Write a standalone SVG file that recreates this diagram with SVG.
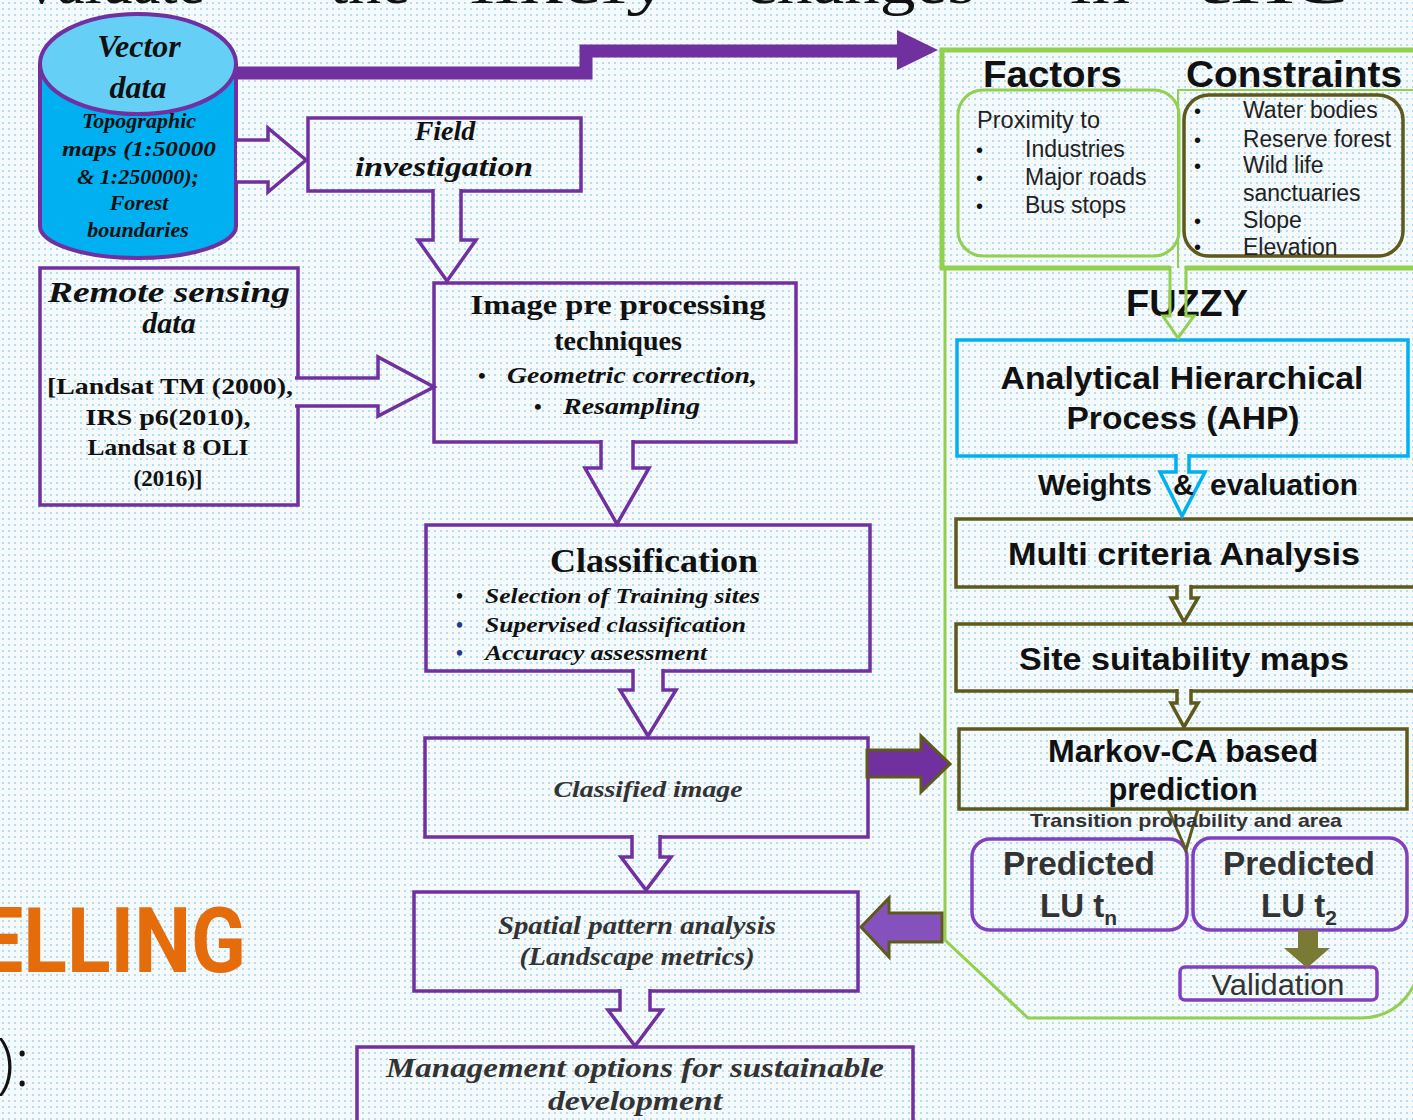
<svg xmlns="http://www.w3.org/2000/svg" width="1413" height="1120" viewBox="0 0 1413 1120">
<defs>
<pattern id="dots" width="6" height="6" patternUnits="userSpaceOnUse">
<rect width="6" height="6" fill="#f4f9fb"/>
<circle cx="3" cy="3" r="0.95" fill="#9fd1e4"/>
</pattern>
<style>
.pbox{fill:none;stroke:#7030a0;stroke-width:3.5}
.ser{font-family:"Liberation Serif",serif;font-weight:bold;fill:#111}
.seri{font-family:"Liberation Serif",serif;font-weight:bold;font-style:italic;fill:#111}
.sans{font-family:"Liberation Sans",Arial,sans-serif;fill:#111}
.b{font-weight:bold}
.hol{fill:url(#dots);stroke:#7030a0;stroke-width:3.5;stroke-linejoin:miter}
.olv{fill:none;stroke:#5e5a1c;stroke-width:3.5}
.grn{fill:none;stroke:#92d050}
.ppl{fill:none;stroke:#8041c0;stroke-width:3.5}
.mid{text-anchor:middle}
</style>
</defs>
<rect width="1413" height="1120" fill="url(#dots)"/>

<g id="title-fragments" font-family="Liberation Serif,serif" font-size="62" fill="#111">
<text x="205" y="3" text-anchor="end">valuate</text>
<text x="330" y="3" textLength="80" lengthAdjust="spacingAndGlyphs">the</text>
<text x="470" y="3" textLength="200" lengthAdjust="spacingAndGlyphs">likely</text>
<text x="745" y="3" textLength="230" lengthAdjust="spacingAndGlyphs">changes</text>
<text x="1070" y="3" textLength="60" lengthAdjust="spacingAndGlyphs">in</text>
<text x="1195" y="3" textLength="155" lengthAdjust="spacingAndGlyphs">the</text>
</g>
<g id="side-text">
<text x="-22" y="972" font-family="Roboto,'Liberation Sans',sans-serif" font-weight="bold" font-size="91" fill="#e46c0a" textLength="268" lengthAdjust="spacingAndGlyphs">ELLING</text>
<text x="30" y="1086" text-anchor="end" font-family="'Open Sans','Liberation Sans',sans-serif" font-weight="300" font-size="66" fill="#111">0):</text>
</g>

<!-- Left flow nodes -->
<g id="vector-data">
<path d="M40,64 L40,226 A98,32 0 0 0 236,226 L236,64" fill="#00b0f0" stroke="#7030a0" stroke-width="4"/>
<ellipse cx="138" cy="64" rx="98" ry="50" fill="#66cff5" stroke="#7030a0" stroke-width="4"/>
<text class="seri mid" x="139" y="57" font-size="32">Vector</text>
<text class="seri mid" x="138" y="98" font-size="32">data</text>
<text class="seri mid" x="139" y="128" font-size="22">Topographic</text>
<text class="seri mid" x="139" y="156" font-size="22" textLength="154" lengthAdjust="spacingAndGlyphs">maps (1:50000</text>
<text class="seri mid" x="138" y="184" font-size="22">&amp; 1:250000);</text>
<text class="seri mid" x="139" y="210" font-size="22">Forest</text>
<text class="seri mid" x="138" y="237" font-size="22">boundaries</text>
</g>

<g id="field-investigation">
<rect class="pbox" x="308" y="118" width="273" height="73" stroke-width="3"/>
<text class="seri mid" x="445" y="140" font-size="28">Field</text>
<text class="seri mid" x="444" y="176" font-size="28" textLength="178" lengthAdjust="spacingAndGlyphs">investigation</text>
</g>

<g id="remote-sensing">
<rect class="pbox" x="40" y="268" width="258" height="237"/>
<text class="seri mid" x="169" y="302" font-size="30" textLength="242" lengthAdjust="spacingAndGlyphs">Remote sensing</text>
<text class="seri mid" x="169" y="333" font-size="30">data</text>
<text class="ser mid" x="170" y="394" font-size="23" textLength="246" lengthAdjust="spacingAndGlyphs">[Landsat  TM (2000),</text>
<text class="ser mid" x="168" y="425" font-size="23" textLength="165" lengthAdjust="spacingAndGlyphs">IRS p6(2010),</text>
<text class="ser mid" x="168" y="455" font-size="23" textLength="161" lengthAdjust="spacingAndGlyphs">Landsat 8 OLI</text>
<text class="ser mid" x="168" y="486" font-size="23">(2016)]</text>
</g>

<g id="image-preprocessing">
<rect class="pbox" x="434" y="283" width="362" height="159"/>
<text class="ser mid" x="618" y="314" font-size="28" textLength="295" lengthAdjust="spacingAndGlyphs">Image pre processing</text>
<text class="ser mid" x="618" y="350" font-size="28">techniques</text>
<text class="ser" x="478" y="383" font-size="22">•</text>
<text class="seri" x="507" y="383" font-size="23" textLength="250" lengthAdjust="spacingAndGlyphs">Geometric correction,</text>
<text class="ser" x="534" y="414" font-size="22">•</text>
<text class="seri" x="563" y="414" font-size="23" textLength="137" lengthAdjust="spacingAndGlyphs">Resampling</text>
</g>

<g id="classification">
<rect class="pbox" x="426" y="525" width="444" height="146"/>
<text class="ser mid" x="654" y="572" font-size="33" textLength="208" lengthAdjust="spacingAndGlyphs">Classification</text>
<text class="ser" x="456" y="603" font-size="20">•</text>
<text class="ser" x="456" y="632" font-size="20" style="fill:#1f3a8a">•</text>
<text class="ser" x="456" y="660" font-size="20" style="fill:#1f3a8a">•</text>
<text class="seri" x="485" y="603" font-size="22" textLength="275" lengthAdjust="spacingAndGlyphs">Selection of Training sites</text>
<text class="seri" x="485" y="632" font-size="22" textLength="261" lengthAdjust="spacingAndGlyphs">Supervised classification</text>
<text class="seri" x="485" y="660" font-size="22" textLength="222" lengthAdjust="spacingAndGlyphs">Accuracy assessment</text>
</g>

<g id="classified-image">
<rect class="pbox" x="425" y="738" width="443" height="99"/>
<text class="seri mid" x="648" y="797" font-size="24" style="fill:#333" textLength="189" lengthAdjust="spacingAndGlyphs">Classified image</text>
</g>

<g id="spatial-pattern">
<rect class="pbox" x="414" y="892" width="444" height="99"/>
<text class="seri mid" x="637" y="934" font-size="25" style="fill:#333" textLength="278" lengthAdjust="spacingAndGlyphs">Spatial pattern analysis</text>
<text class="seri mid" x="637" y="965" font-size="25" style="fill:#333" textLength="235" lengthAdjust="spacingAndGlyphs">(Landscape metrics)</text>
</g>

<g id="management">
<rect class="pbox" x="357" y="1047" width="556" height="80"/>
<text class="seri mid" x="635" y="1077" font-size="28" style="fill:#333" textLength="498" lengthAdjust="spacingAndGlyphs">Management options for sustainable</text>
<text class="seri mid" x="635" y="1110" font-size="28" style="fill:#333" textLength="174" lengthAdjust="spacingAndGlyphs">development</text>
</g>

<!-- Right panel -->
<g id="factors-constraints">
<path class="grn" stroke-width="5" d="M1170,268 L942,268 L942,50 L1420,50 M1185,268 L1420,268"/>
<path class="grn" stroke-width="2" d="M1178,268 L1178,90 L1420,90"/>
<text class="sans b" x="983" y="87" font-size="37" textLength="139" lengthAdjust="spacingAndGlyphs">Factors</text>
<text class="sans b" x="1186" y="87" font-size="37" textLength="216" lengthAdjust="spacingAndGlyphs">Constraints</text>
<rect class="grn" stroke-width="3" x="958" y="90" width="221" height="166" rx="25"/>
<text class="sans" x="977" y="128" font-size="23" style="fill:#222" textLength="123" lengthAdjust="spacingAndGlyphs">Proximity to</text>
<text class="sans" x="976" y="157" font-size="20">•</text>
<text class="sans" x="976" y="185" font-size="20">•</text>
<text class="sans" x="976" y="213" font-size="20">•</text>
<text class="sans" x="1025" y="157" font-size="23" style="fill:#222">Industries</text>
<text class="sans" x="1025" y="185" font-size="23" style="fill:#222">Major roads</text>
<text class="sans" x="1025" y="213" font-size="23" style="fill:#222">Bus stops</text>
<rect class="olv" x="1184" y="95" width="219" height="161" rx="25"/>
<text class="sans" x="1194" y="118" font-size="20">•</text>
<text class="sans" x="1194" y="147" font-size="20">•</text>
<text class="sans" x="1194" y="173" font-size="20">•</text>
<text class="sans" x="1194" y="228" font-size="20">•</text>
<text class="sans" x="1194" y="254" font-size="20">•</text>
<text class="sans" x="1243" y="118" font-size="23" style="fill:#222">Water bodies</text>
<text class="sans" x="1243" y="147" font-size="23" style="fill:#222" textLength="148" lengthAdjust="spacingAndGlyphs">Reserve forest</text>
<text class="sans" x="1243" y="173" font-size="23" style="fill:#222">Wild life</text>
<text class="sans" x="1243" y="201" font-size="23" style="fill:#222">sanctuaries</text>
<text class="sans" x="1243" y="228" font-size="23" style="fill:#222">Slope</text>
<text class="sans" x="1243" y="255" font-size="23" style="fill:#222">Elevation</text>
</g>

<g id="panel-outline">
<path class="grn" stroke-width="3" d="M945,268 L945,940 L1028,1018 L1360,1018 Q1403,1018 1420,972"/>
</g>

<g id="fuzzy-label">
<text class="sans b mid" x="1187" y="316" font-size="37" textLength="122" lengthAdjust="spacingAndGlyphs">FUZZY</text>
</g>

<g id="ahp">
<rect x="957" y="340" width="451" height="116" fill="none" stroke="#00b0f0" stroke-width="3.5"/>
<text class="sans b mid" x="1182" y="389" font-size="32" textLength="363" lengthAdjust="spacingAndGlyphs">Analytical Hierarchical</text>
<text class="sans b mid" x="1183" y="429" font-size="32" textLength="233" lengthAdjust="spacingAndGlyphs">Process (AHP)</text>
</g>

<g id="multi-criteria">
<rect class="olv" x="956" y="519" width="462" height="68"/>
<text class="sans b mid" x="1184" y="565" font-size="32" textLength="352" lengthAdjust="spacingAndGlyphs">Multi criteria Analysis</text>
</g>

<g id="site-suitability">
<rect class="olv" x="956" y="624" width="462" height="67"/>
<text class="sans b mid" x="1184" y="670" font-size="32" textLength="330" lengthAdjust="spacingAndGlyphs">Site suitability maps</text>
</g>

<g id="markov-ca">
<rect class="olv" x="959" y="729" width="448" height="80"/>
<text class="sans b mid" x="1183" y="762" font-size="31" textLength="270" lengthAdjust="spacingAndGlyphs">Markov-CA based</text>
<text class="sans b mid" x="1183" y="800" font-size="31" textLength="149" lengthAdjust="spacingAndGlyphs">prediction</text>
</g>

<g id="predicted-tn">
<rect class="ppl" x="972" y="839" width="215" height="91" rx="18"/>
<text class="sans b mid" x="1079" y="875" font-size="33" style="fill:#333" textLength="152" lengthAdjust="spacingAndGlyphs">Predicted</text>
<text class="sans b" x="1040" y="917" font-size="33" style="fill:#333">LU t<tspan font-size="21" dy="8">n</tspan></text>
</g>

<g id="predicted-t2">
<rect class="ppl" x="1193" y="838" width="214" height="92" rx="18"/>
<text class="sans b mid" x="1299" y="875" font-size="33" style="fill:#333" textLength="152" lengthAdjust="spacingAndGlyphs">Predicted</text>
<text class="sans b" x="1261" y="917" font-size="33" style="fill:#333">LU t<tspan font-size="21" dy="8">2</tspan></text>
</g>

<g id="validation">
<rect class="ppl" x="1180" y="967" width="197" height="33" rx="5"/>
<text class="sans mid" x="1278" y="995" font-size="30" style="fill:#333" textLength="133" lengthAdjust="spacingAndGlyphs">Validation</text>
</g>

<!-- Connectors -->
<g id="connectors">
<path d="M236,73 L586,73 L586,51 L900,51" fill="none" stroke="#7030a0" stroke-width="13" stroke-linejoin="miter"/>
<polygon points="897,30 938,50 897,70" fill="#7030a0"/>

<path class="hol" d="M237,140 L268,140 L268,128 L306,160 L268,192 L268,182 L237,182"/>
<path class="hol" d="M433,189 L433,240 L418,240 L447,281 L476,240 L461,240 L461,189"/>
<path class="hol" d="M295,378 L378,378 L378,357 L434,387 L378,416 L378,406 L295,406"/>
<path class="hol" d="M601,440 L601,468 L585,468 L617,524 L649,468 L633,468 L633,440"/>
<path class="hol" d="M633,669 L633,690 L620,690 L648,736 L676,690 L663,690 L663,669"/>
<path class="hol" d="M632,835 L632,857 L621,857 L646,890 L671,857 L660,857 L660,835"/>
<path class="hol" d="M620,989 L620,1010 L608,1010 L635,1046 L662,1010 L650,1010 L650,989"/>

<polygon points="867,750 921,750 921,736 950,764 921,792 921,777 867,777" fill="#7030a0" stroke="#5e5a1c" stroke-width="3"/>
<polygon points="942,913 889,913 889,898 861,927 889,957 889,942 942,942" fill="#8552bd" stroke="#5e5a1c" stroke-width="3"/>

<path d="M1170,266 L1170,316 L1163,316 L1178,338 L1194,316 L1186,316 L1186,266" fill="none" stroke="#92d050" stroke-width="3"/>
<path d="M1176,454 L1176,472 L1160,472 L1182,516 L1205,472 L1189,472 L1189,454" fill="url(#dots)" stroke="#00b0f0" stroke-width="3.5"/>
<path d="M1177,585 L1177,598 L1171,598 L1184,622 L1198,598 L1191,598 L1191,585" fill="url(#dots)" stroke="#5e5a1c" stroke-width="3.5"/>
<path d="M1177,689 L1177,703 L1171,703 L1184,727 L1198,703 L1191,703 L1191,689" fill="url(#dots)" stroke="#5e5a1c" stroke-width="3.5"/>
<path d="M1168,809 L1186,850 L1198,809" fill="none" stroke="#5e5a1c" stroke-width="3"/>
<polygon points="1298,930 1318,930 1318,948 1330,948 1307,968 1284,948 1298,948" fill="#7b7a34"/>
</g>

<g id="weights-label" class="sans b" font-size="29">
<text x="1038" y="495" textLength="114" lengthAdjust="spacingAndGlyphs">Weights</text>
<text x="1173" y="495">&amp;</text>
<text x="1210" y="495" textLength="148" lengthAdjust="spacingAndGlyphs">evaluation</text>
</g>
<g id="transition-label">
<text class="sans b mid" x="1186" y="827" font-size="19" style="fill:#333" textLength="312" lengthAdjust="spacingAndGlyphs">Transition probability and area</text>
</g>
</svg>
